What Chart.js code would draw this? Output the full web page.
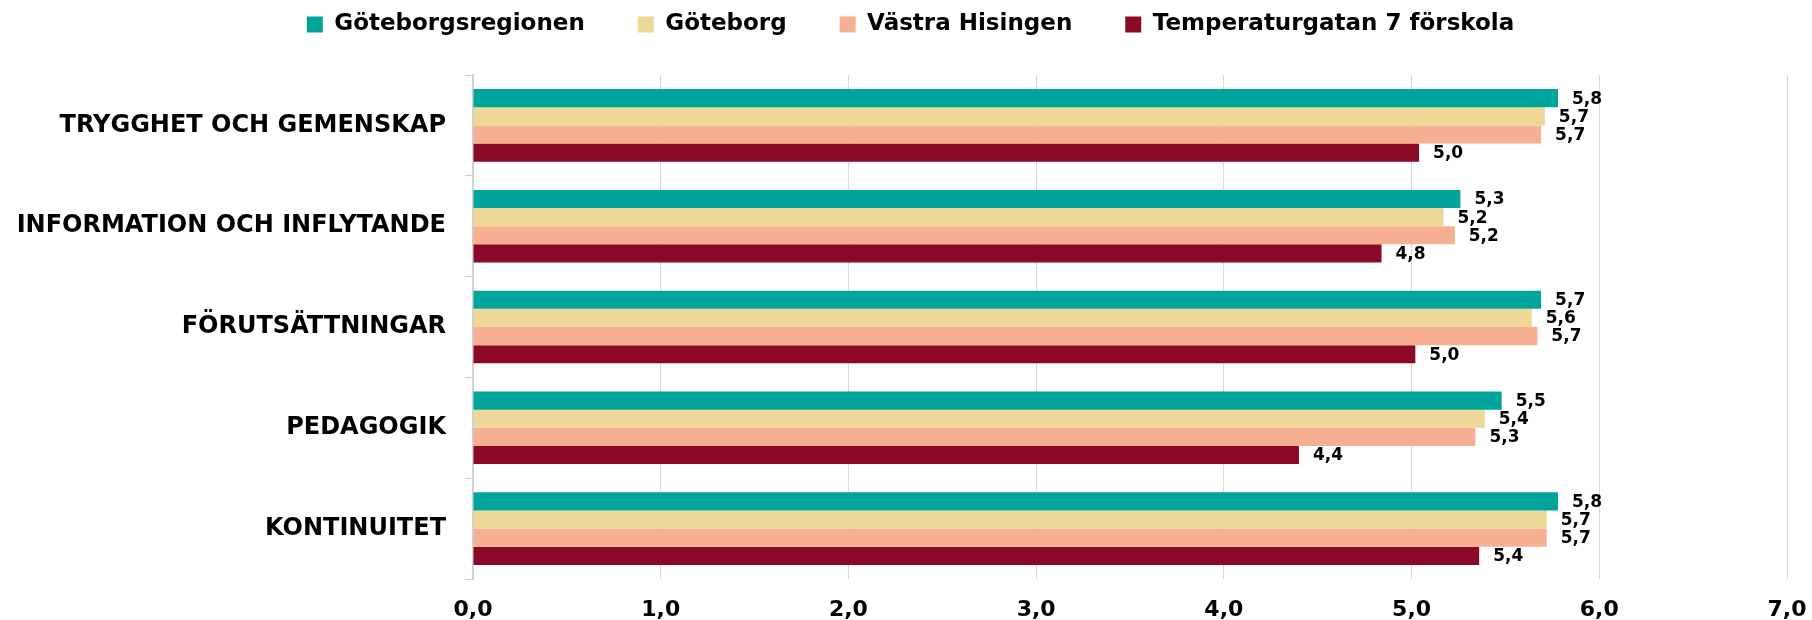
<!DOCTYPE html>
<html>
<head>
<meta charset="utf-8">
<script src="https://cdn.jsdelivr.net/npm/chart.js@4/dist/chart.umd.min.js"></script>
<style>
  html, body { margin: 0; padding: 0; background: #fff; }
</style>
</head>
<body>
<canvas id="chart" width="1812" height="620"></canvas>
<script>
// Data
const categories = ['TRYGGHET OCH GEMENSKAP', 'INFORMATION OCH INFLYTANDE', 'FÖRUTSÄTTNINGAR', 'PEDAGOGIK', 'KONTINUITET'];
const seriesNames = ['Göteborgsregionen', 'Göteborg', 'Västra Hisingen', 'Temperaturgatan 7 förskola'];
const goteborgsregionen = [5.78, 5.26, 5.69, 5.48, 5.78];
const goteborg = [5.71, 5.17, 5.64, 5.39, 5.72];
const vastraHisingen = [5.69, 5.23, 5.67, 5.34, 5.72];
const temperaturgatan = [5.04, 4.84, 5.02, 4.40, 5.36];
const xTicks = [0, 1, 2, 3, 4, 5, 6, 7];

const colors = ['#00A49B', '#EDD897', '#F6AF90', '#8C0827'];
const fmt = v => Number(v).toFixed(1).replace('.', ',');

Chart.defaults.font.family = '"DejaVu Sans", sans-serif';
Chart.defaults.color = '#000';

// legend: wide gaps between items but kept close to the top edge
const legendSpacing = {
  id: 'legendSpacing',
  afterInit(chart) {
    const legend = chart.legend;
    const fit = legend.fit;
    legend.fit = function () { fit.call(this); this.height = 75; };
  },
  afterLayout(chart) {
    const legend = chart.legend;
    legend.top = -40;
    legend.left += 17;
    legend.right += 17;
  }
};

// value labels at the end of each bar
const valueLabels = {
  id: 'valueLabels',
  afterDatasetsDraw(chart) {
    const ctx = chart.ctx;
    ctx.save();
    ctx.font = 'bold 17px "DejaVu Sans"';
    ctx.fillStyle = '#000';
    ctx.textAlign = 'left';
    ctx.textBaseline = 'middle';
    chart.data.datasets.forEach((ds, i) => {
      chart.getDatasetMeta(i).data.forEach((bar, j) => {
        ctx.fillText(fmt(ds.data[j]), bar.x + 14, bar.y + 1);
      });
    });
    ctx.restore();
  }
};

const allSeries = [goteborgsregionen, goteborg, vastraHisingen, temperaturgatan];

new Chart(document.getElementById('chart'), {
  type: 'bar',
  data: {
    labels: categories,
    datasets: allSeries.map((d, i) => ({
      label: seriesNames[i],
      data: d,
      backgroundColor: colors[i],
      borderWidth: 0,
      categoryPercentage: 0.72,
      barPercentage: 1.0
    }))
  },
  options: {
    indexAxis: 'y',
    responsive: false,
    animation: false,
    devicePixelRatio: 1,
    layout: { padding: { left: 0, right: 25, top: 0, bottom: 0 } },
    plugins: {
      tooltip: { enabled: false },
      legend: {
        position: 'top',
        labels: {
          boxWidth: 16,
          boxHeight: 16,
          padding: 53,
          color: '#000',
          font: { size: 23, weight: 'bold' }
        }
      }
    },
    scales: {
      x: {
        min: 0,
        max: 7,
        afterBuildTicks(scale) { scale.ticks = xTicks.map(v => ({ value: v })); },
        ticks: {
          padding: 18,
          color: '#000',
          font: { size: 22, weight: 'bold' },
          callback: v => fmt(v)
        },
        grid: { color: '#d9d9d9', drawTicks: false },
        border: { display: false },
        afterFit(scale) {
          scale.height = 41;
          scale.paddingRight = 25;
          scale.paddingLeft = 0;
        }
      },
      y: {
        ticks: {
          padding: 19,
          color: '#000',
          font: { size: 24, weight: 'bold' }
        },
        grid: { drawOnChartArea: false, tickLength: 8, color: '#d0d0d0', offset: true },
        border: { color: '#d0d0d0', width: 2 },
        afterFit(scale) { scale.width = 473; }
      }
    }
  },
  plugins: [legendSpacing, valueLabels]
});
</script>
</body>
</html>
